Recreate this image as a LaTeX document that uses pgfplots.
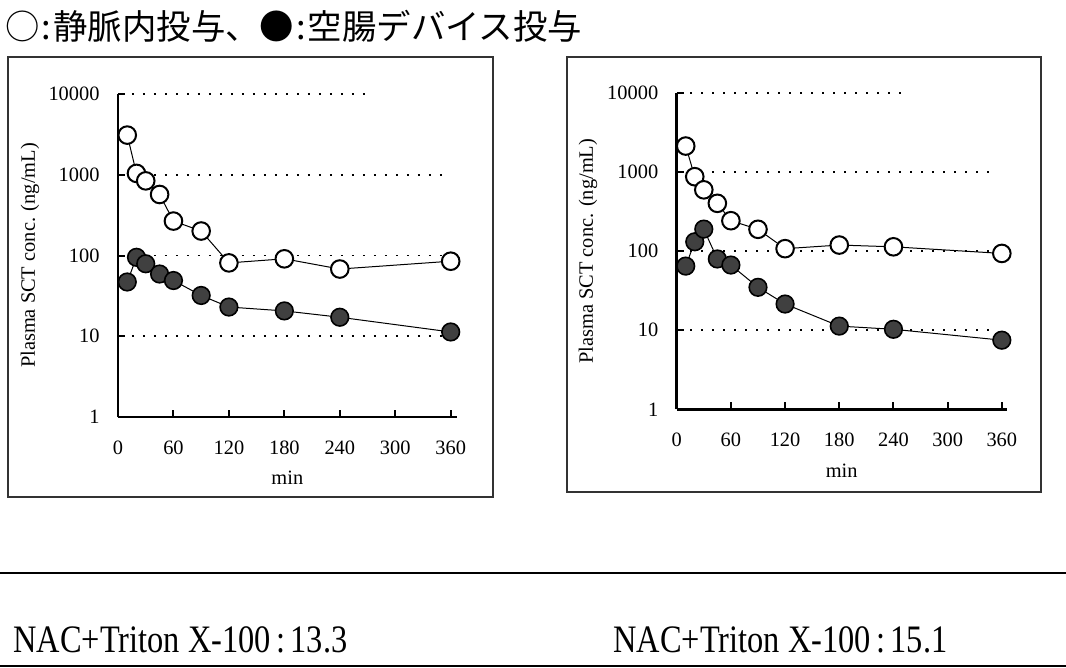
\documentclass[border=0pt]{standalone}
\usepackage{fontspec}
\setmainfont{Liberation Serif}
\newfontfamily\cjk{Noto Sans CJK JP}
\usepackage{graphicx}
\usepackage{pgfplots}
\pgfplotsset{compat=1.18}

\tikzset{
  ivplot/.style={black, line width=0.5pt, mark=*, mark size=4.4pt,
    mark options={fill=white, draw=black, line width=1pt}},
  jdplot/.style={black, line width=0.5pt, mark=*, mark size=4.4pt,
    mark options={fill=black!75, draw=black, line width=0.8pt}},
  gridl/.style={black, line width=0.9pt, dash pattern=on 0.9pt off 4.6pt},
}

\begin{document}
\begin{tikzpicture}
\useasboundingbox (0,0) rectangle (533pt,-334pt);

% title
\node[anchor=base west, inner sep=0pt] at (2.5pt,-20pt)
  {\cjk\fontsize{17.2}{20}\selectfont ○\kern0.06em:\kern0.06em静脈内投与、●\kern0.06em:\kern0.06em空腸デバイス投与};

% frames
\draw[black!80, line width=0.6pt] (4pt,-28.5pt) rectangle (246.5pt,-248.5pt);
\draw[black!80, line width=0.6pt] (283.5pt,-28.5pt) rectangle (520.5pt,-246pt);

% left chart
\begin{axis}[
  scale only axis,
  at={(59pt,-208.5pt)}, anchor=south west,
  width=169.35pt, height=161.5pt,
  xmin=0, xmax=366.5,
  ymode=log, ymin=1, ymax=10000,
  axis x line*=bottom, axis y line*=left,
  xtick={0,60,120,180,240,300,360},
  ytick={1,10,100,1000,10000},
  yticklabels={1,10,100,1000,10000},
  minor tick num=0, yminorticks=false, xminorticks=false,
  tick align=inside,
  major tick length=3.5pt,
  axis line style={line width=1.4pt, black},
  major tick style={black, line width=1pt},
  tick label style={font=\fontsize{10.2}{12}\selectfont},
  /pgf/number format/assume math mode=true,
  yticklabel style={xshift=-5.7pt},
  xticklabel style={yshift=-8.5pt},
  xlabel={min},
  ylabel={Plasma SCT conc. (ng/mL)},
  label style={font=\fontsize{10.2}{12}\selectfont},
  clip=false,
  xlabel style={at={(axis description cs:0.5,-0.189)}, anchor=center},
  ylabel style={at={(axis description cs:-0.26,0.5)}, anchor=center},
]
\draw[gridl] (axis cs:3,10000) -- (axis cs:276,10000);
\draw[gridl] (axis cs:3,1000) -- (axis cs:352,1000);
\draw[gridl] (axis cs:3,100) -- (axis cs:352,100);
\draw[gridl] (axis cs:3,10) -- (axis cs:352,10);
\addplot[ivplot] coordinates {
  (10,3100) (20,1040) (30,840) (45,570) (60,267) (90,201)
  (120,81) (180,91) (240,68) (360,85)};
\addplot[jdplot] coordinates {
  (10,47) (20,95) (30,79) (45,59) (60,49) (90,32)
  (120,23) (180,20.6) (240,17.2) (360,11.3)};
\end{axis}

% right chart
\begin{axis}[
  scale only axis,
  at={(338.35pt,-204.65pt)}, anchor=south west,
  width=165pt, height=158pt,
  xmin=0, xmax=365.4,
  ymode=log, ymin=1, ymax=10000,
  axis x line*=bottom, axis y line*=left,
  xtick={0,60,120,180,240,300,360},
  ytick={1,10,100,1000,10000},
  yticklabels={1,10,100,1000,10000},
  minor tick num=0, yminorticks=false, xminorticks=false,
  tick align=inside,
  major tick length=3.5pt,
  axis line style={line width=1.4pt, black},
  major tick style={black, line width=1pt},
  tick label style={font=\fontsize{10.2}{12}\selectfont},
  /pgf/number format/assume math mode=true,
  yticklabel style={xshift=-5.7pt},
  xticklabel style={yshift=-8.5pt},
  xlabel={min},
  ylabel={Plasma SCT conc. (ng/mL)},
  label style={font=\fontsize{10.2}{12}\selectfont},
  clip=false,
  xlabel style={at={(axis description cs:0.5,-0.194)}, anchor=center},
  ylabel style={at={(axis description cs:-0.269,0.5)}, anchor=center},
]
\draw[gridl] (axis cs:3,10000) -- (axis cs:250,10000);
\draw[gridl] (axis cs:3,1000) -- (axis cs:352,1000);
\draw[gridl] (axis cs:3,100) -- (axis cs:352,100);
\draw[gridl] (axis cs:3,10) -- (axis cs:352,10);
\addplot[ivplot] coordinates {
  (10,2150) (20,880) (30,600) (45,405) (60,244) (90,190)
  (120,108) (180,120) (240,114) (360,94)};
\addplot[jdplot] coordinates {
  (10,65) (20,132) (30,191) (45,80) (60,67) (90,35)
  (120,21.5) (180,11.3) (240,10.3) (360,7.5)};
\end{axis}

% horizontal rules and footer text
\draw[black, line width=1pt] (0pt,-286.5pt) -- (533pt,-286.5pt);
\draw[black, line width=0.8pt] (0pt,-333pt) -- (533pt,-333pt);
\node[anchor=base west, inner sep=0pt] at (6.5pt,-326pt)
  {\scalebox{1}[1.2]{\fontsize{16.2}{19}\selectfont NAC+Triton X-100\,:\,13.3}};
\node[anchor=base west, inner sep=0pt] at (306.5pt,-326pt)
  {\scalebox{1}[1.2]{\fontsize{16.2}{19}\selectfont NAC+Triton X-100\,:\,15.1}};
\end{tikzpicture}
\end{document}
